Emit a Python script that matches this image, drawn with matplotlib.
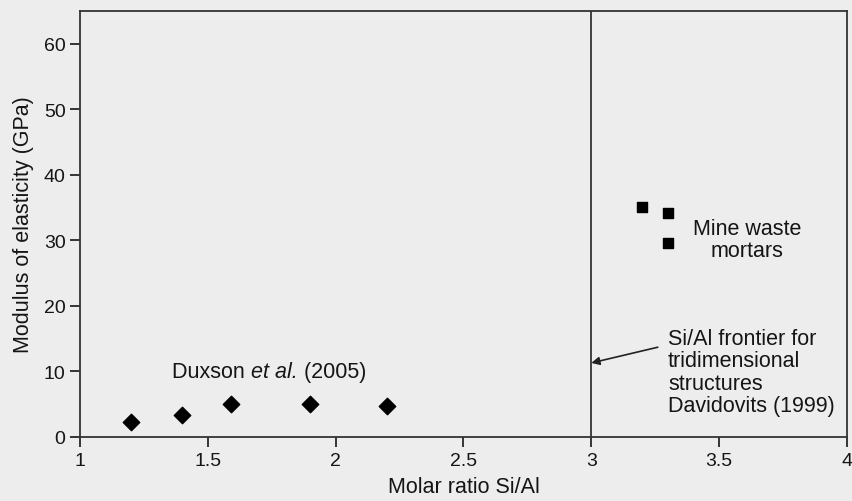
import matplotlib
matplotlib.use("Agg")
import matplotlib.pyplot as plt

plt.rcParams['font.family'] = ['Liberation Sans', 'DejaVu Sans']

# Duxson et al. (2005)
duxson_x = [1.20, 1.40, 1.59, 1.90, 2.20]
duxson_y = [2.3, 3.4, 5.0, 5.0, 4.8]

# Mine waste mortars
mine_x = [3.20, 3.30, 3.30]
mine_y = [35.1, 34.2, 29.6]

x_ticks = [1, 1.5, 2, 2.5, 3, 3.5, 4]
x_tick_labels = ['1', '1.5', '2', '2.5', '3', '3.5', '4']
y_ticks = [0, 10, 20, 30, 40, 50, 60]
frontier = 3.0

fundo = '#ededed'
tinta = '#151515'
fs = 15.5
fig = plt.figure(figsize=(8.52, 5.02), dpi=100, facecolor=fundo)
ax = fig.add_axes([0.094, 0.1275, 0.9, 0.8485], facecolor=fundo)

ax.scatter(duxson_x, duxson_y, marker='D', s=70, color='black', zorder=3)
ax.scatter(mine_x, mine_y, marker='s', s=55, color='black', zorder=3)

ax.axvline(frontier, color='#333333', lw=1.3)

ax.annotate('', xy=(frontier, 11.3), xytext=(3.26, 13.7),
            arrowprops=dict(arrowstyle='-|>', color='#222222', lw=1.2,
                            mutation_scale=12, shrinkA=0, shrinkB=0))

# va='baseline' alinha pela ultima linha
ax.text(3.30, 4.0, 'Si/Al frontier for\ntridimensional\nstructures\nDavidovits (1999)',
        fontsize=fs, va='baseline', ha='left', linespacing=1.08, color=tinta)
ax.text(3.61, 27.6, 'Mine waste\nmortars', fontsize=fs, va='baseline', ha='center',
        linespacing=1.08, color=tinta)

# "Duxson et al. (2005)" em tres pedacos para ter o italico
t1 = ax.text(1.36, 9.2, 'Duxson ', fontsize=fs, va='baseline', ha='left', color=tinta)
t2 = ax.annotate('et al.', xy=(1, 0), xycoords=t1, va='bottom', ha='left',
                 fontsize=fs, style='italic', color=tinta)
ax.annotate(' (2005)', xy=(1, 0), xycoords=t2, va='bottom', ha='left',
            fontsize=fs, color=tinta)

ax.set_xlim(1, 4)
ax.set_ylim(0, 65)
ax.set_xticks(x_ticks)
ax.set_xticklabels(x_tick_labels)
ax.set_yticks(y_ticks)
ax.tick_params(direction='out', length=7, width=1.2, labelsize=14, colors=tinta)

for s in ax.spines.values():
    s.set_color('#333333')
    s.set_linewidth(1.3)

ax.set_xlabel('Molar ratio Si/Al', fontsize=fs, labelpad=5, color=tinta)
ax.set_ylabel('Modulus of elasticity (GPa)', fontsize=fs, labelpad=7, color=tinta)

fig.savefig('out.png', dpi=100, facecolor=fundo)
